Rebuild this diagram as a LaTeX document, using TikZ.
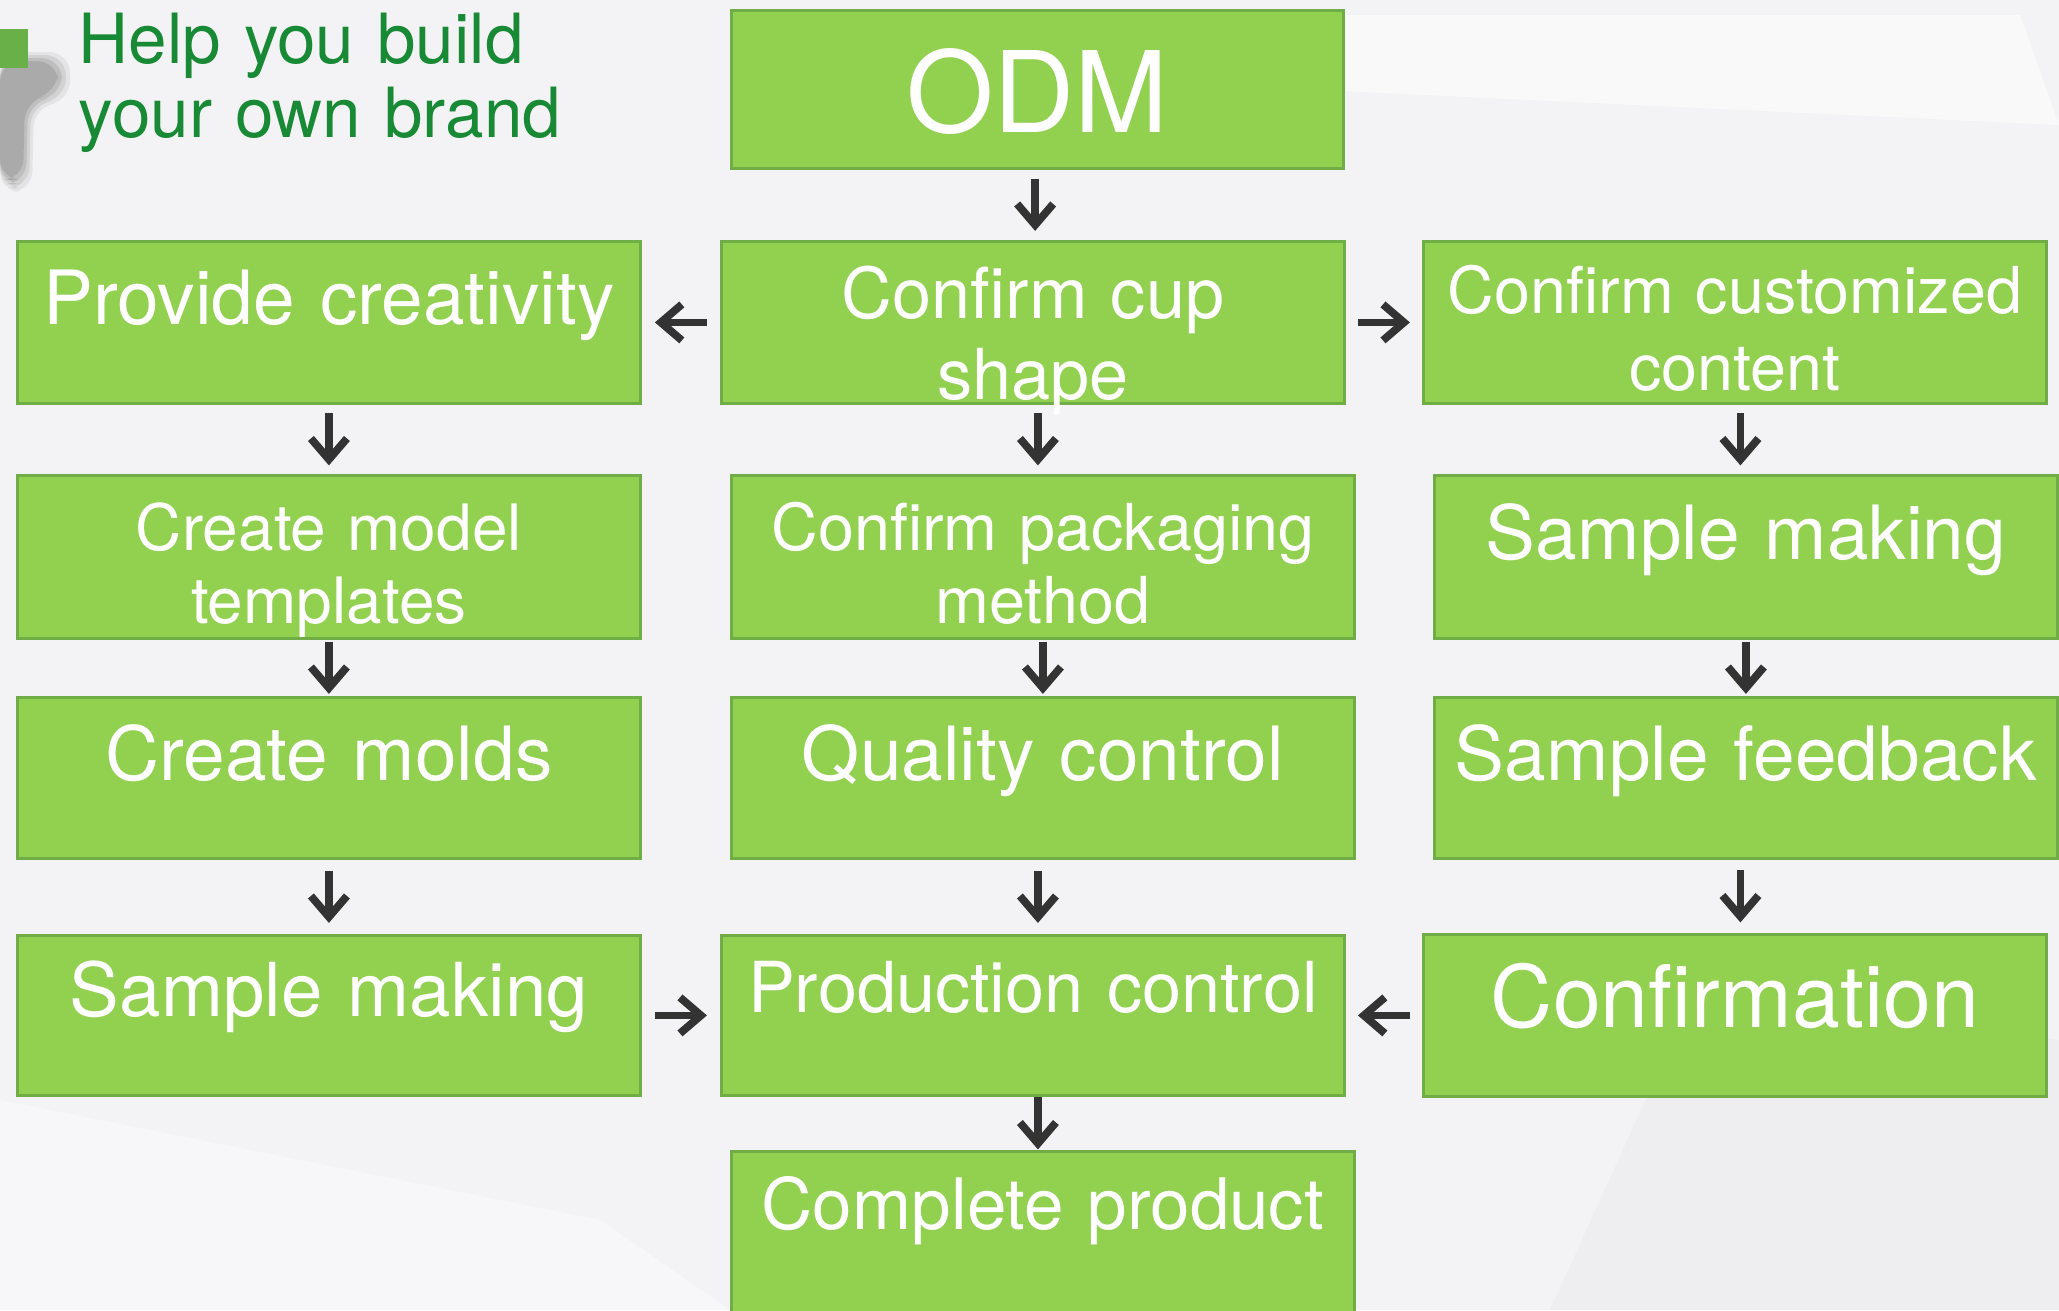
\documentclass[tikz,border=0pt]{standalone}
\usepackage{fontspec}
\setmainfont{TeX Gyre Heros}
\usetikzlibrary{calc, positioning, arrows.meta}
\definecolor{boxgreen}{RGB}{146,208,80}
\definecolor{edgegreen}{RGB}{112,173,71}
\definecolor{titlegreen}{RGB}{24,137,52}
\definecolor{markgreen}{RGB}{106,176,72}
\definecolor{arrowgray}{RGB}{51,51,51}
\definecolor{bggray}{RGB}{243,243,245}
\newcommand{\fs}[2]{\fontsize{#1}{#2}\selectfont}

\begin{document}
\begin{tikzpicture}[
    card/.style={anchor=north west, fill=boxgreen, draw=edgegreen, line width=0.8pt,
                 inner sep=0pt, text width=6.23cm, align=center, text=white},
    flow/.style={draw=arrowgray, line width=2.2pt, -{Straight Barb[length=2.1mm,width=3.6mm]}},
    brand/.style={anchor=base west, inner sep=0pt, text width=6cm, align=left, text=titlegreen}]

    \useasboundingbox (0,0) rectangle (20.59,-13.10); % same proportions as the slide

    % slide background with a few faint facets
    \fill[bggray] (0,0) rectangle (20.59,-13.10);
    \fill[white, opacity=.55] (13.2,-0.15) -- (20.2,-0.15) -- (20.59,-1.25) -- (13.2,-0.9) -- cycle;
    \fill[white, opacity=.4] (0,-11.0) -- (6.0,-12.2) -- (7.3,-13.10) -- (0,-13.10) -- cycle;
    \fill[black, opacity=.02] (15.5,-13.10) -- (17.0,-9.8) -- (20.59,-10.4) -- (20.59,-13.10) -- cycle;

    % blurred mark and green square top left
    \foreach \k/\o in {0/.10, 1/.14, 2/.18, 3/.22}
        \fill[gray!80!black, opacity=\o, rounded corners=6pt]
            (0,-0.52-\k*0.03) -- (0.70-\k*0.04,-0.52-\k*0.03) -- (0.70-\k*0.04,-1.02+\k*0.03)
            -- (0.34-\k*0.03,-1.06+\k*0.02) -- (0.32-\k*0.03,-1.92+\k*0.04) -- (0,-1.92+\k*0.04) -- cycle;
    \fill[markgreen] (0,-0.29) rectangle (0.28,-0.68);

    \node[brand, font=\fs{19.7}{21.3}] (slogan) at (0.78,-0.63) {Help you build\\your own brand};

    % boxes: text height/depth fix the first baseline inside each box
    \node[card, font=\fs{32}{36}, text width=6.12cm, text height=1.22cm, text depth=.36cm] (odm) at (7.30,-0.09) {ODM};

    \node[card, font=\fs{21.3}{24},   text height=.83cm,  text depth=.79cm] (pc)    at (0.16,-2.40)  {Provide creativity};
    \node[card, font=\fs{20}{23},     text height=.77cm,  text depth=.85cm] (cup)   at (7.20,-2.40)  {Confirm cup\\shape};
    \node[card, font=\fs{18.4}{21.9}, text height=.72cm,  text depth=.90cm] (ccc)   at (14.22,-2.40) {Confirm customized\\content};

    \node[card, font=\fs{18.2}{20.8}, text height=.75cm,  text depth=.88cm] (cmt)   at (0.16,-4.74)  {Create model\\templates};
    \node[card, font=\fs{18.4}{20.8}, text height=.75cm,  text depth=.88cm] (cpm)   at (7.30,-4.74)  {Confirm packaging\\method};
    \node[card, font=\fs{21.3}{24},   text height=.84cm,  text depth=.79cm] (smr)   at (14.33,-4.74) {Sample making};

    \node[card, font=\fs{21.3}{24},   text height=.83cm,  text depth=.78cm] (molds) at (0.16,-6.96)  {Create molds};
    \node[card, font=\fs{21.3}{24},   text height=.83cm,  text depth=.78cm] (qc)    at (7.30,-6.96)  {Quality control};
    \node[card, font=\fs{21.3}{24},   text height=.83cm,  text depth=.78cm] (sf)    at (14.33,-6.96) {Sample feedback};

    \node[card, font=\fs{21.2}{24},   text height=.81cm,  text depth=.79cm] (sml)   at (0.16,-9.34)  {Sample making};
    \node[card, font=\fs{20}{23},     text height=.77cm,  text depth=.83cm] (prod)  at (7.20,-9.34)  {Production control};
    \node[card, font=\fs{24.5}{28},   text height=.93cm,  text depth=.69cm] (conf)  at (14.22,-9.33) {Confirmation};

    \node[card, font=\fs{20.2}{23},   text height=.78cm,  text depth=1.02cm] (cp)   at (7.30,-11.50) {Complete product};

    % short arrows centred in the gaps
    \foreach \a/\b in {odm/cup, pc/cmt, cup/cpm, ccc/smr, cmt/molds, cpm/qc, smr/sf, molds/sml, qc/prod, sf/conf, prod/cp}
        \draw[flow] ($(\a.south)!.5!(\b.north)+(0,.26)$) -- ++(0,-.52);

    \draw[flow] ($(cup.west)!.5!(pc.east)+(.26,0)$)    -- ++(-.52,0);
    \draw[flow] ($(cup.east)!.5!(ccc.west)-(.26,0)$)   -- ++(.52,0);
    \draw[flow] ($(sml.east)!.5!(prod.west)-(.26,0)$)  -- ++(.52,0);
    \draw[flow] ($(conf.west)!.5!(prod.east)+(.26,0)$) -- ++(-.52,0);

\end{tikzpicture}
\end{document}
